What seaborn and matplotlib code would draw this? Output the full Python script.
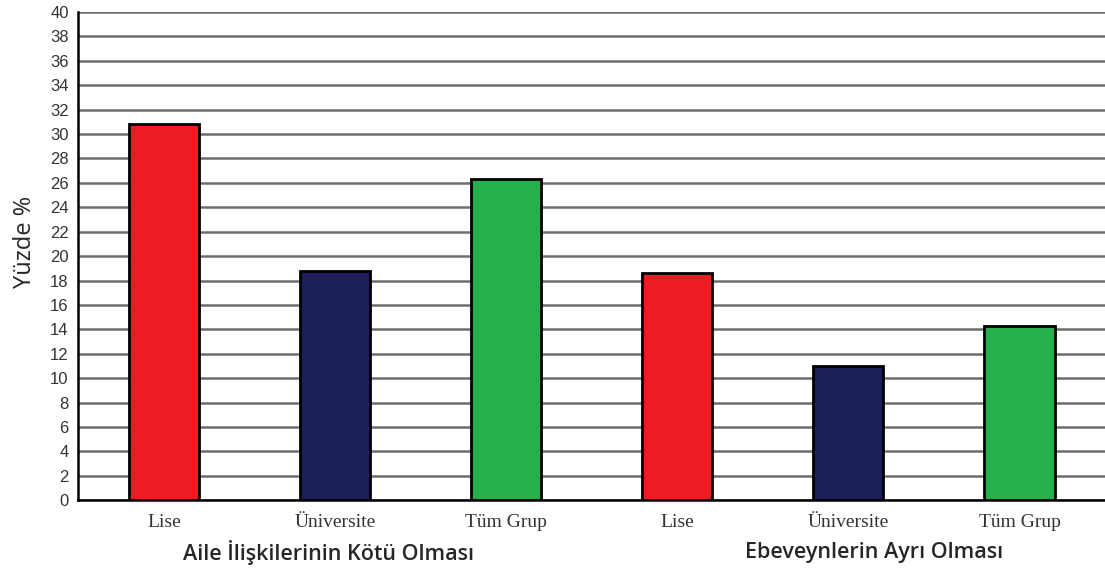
import numpy as np
import pandas as pd
import seaborn as sns
import matplotlib.pyplot as plt

# values
gruplar = ['Aile İlişkilerinin Kötü Olması', 'Ebeveynlerin Ayrı Olması']
altgruplar = ['Lise', 'Üniversite', 'Tüm Grup']
yuzde_aile = [30.8, 18.8, 26.3]
yuzde_ebeveyn = [18.6, 11.0, 14.3]
renkler = ['#ED1C24', '#1C1F5A', '#25B04B']

df = pd.DataFrame({
    'grup': [gruplar[0]] * 3 + [gruplar[1]] * 3,
    'alt': altgruplar * 2,
    'yuzde': yuzde_aile + yuzde_ebeveyn,
})
df['bar'] = df['grup'] + ' / ' + df['alt']

sns.set_style('white')
plt.rcParams['font.family'] = ['Liberation Sans', 'DejaVu Sans']

fig = plt.figure(figsize=(11.05, 5.71), dpi=100)
ax = fig.add_axes([0.071, 0.124, 0.929, 0.855])

sns.barplot(data=df, x='bar', y='yuzde', hue='bar', palette=renkler * 2,
            saturation=1, width=0.41, edgecolor='black', linewidth=2,
            legend=False, ax=ax, zorder=3)

ax.set_ylim(0, 40)
ax.set_xlim(-0.5, 5.5)
ax.set_yticks(np.arange(0, 41, 2))
ax.yaxis.grid(True, color='#6e6e6e', linewidth=1.8, zorder=0)
ax.set_axisbelow(True)

for s in ['top', 'right']:
    ax.spines[s].set_visible(False)
for s in ['left', 'bottom']:
    ax.spines[s].set_color('black')
    ax.spines[s].set_linewidth(1.8)

ax.tick_params(axis='y', direction='out', length=5, width=1.2, color='black',
               labelsize=12, labelcolor='#333333', pad=2)
ax.set_xticks(range(6))
ax.set_xticklabels(altgruplar * 2, fontfamily='Liberation Serif', fontsize=14,
                   color='#333333')
ax.tick_params(axis='x', length=0, pad=10)
ax.set_xticks(np.arange(-0.5, 5.6, 1), minor=True)
ax.tick_params(axis='x', which='minor', direction='out', length=6, width=1.2,
               color='black')

ax.set_xlabel('')
ax.set_ylabel('Yüzde %', fontfamily='Open Sans', fontsize=17)
ax.yaxis.set_label_coords(-0.04, 0.53)

# group labels sit slightly off the middle bar, as in the reference
for x, g in zip([0.96, 4.15], gruplar):
    ax.text(x, -0.108, g, transform=ax.get_xaxis_transform(),
            ha='center', va='center', fontfamily='Open Sans',
            fontweight='semibold', fontsize=15.5)

fig.savefig('out.png', dpi=100)
